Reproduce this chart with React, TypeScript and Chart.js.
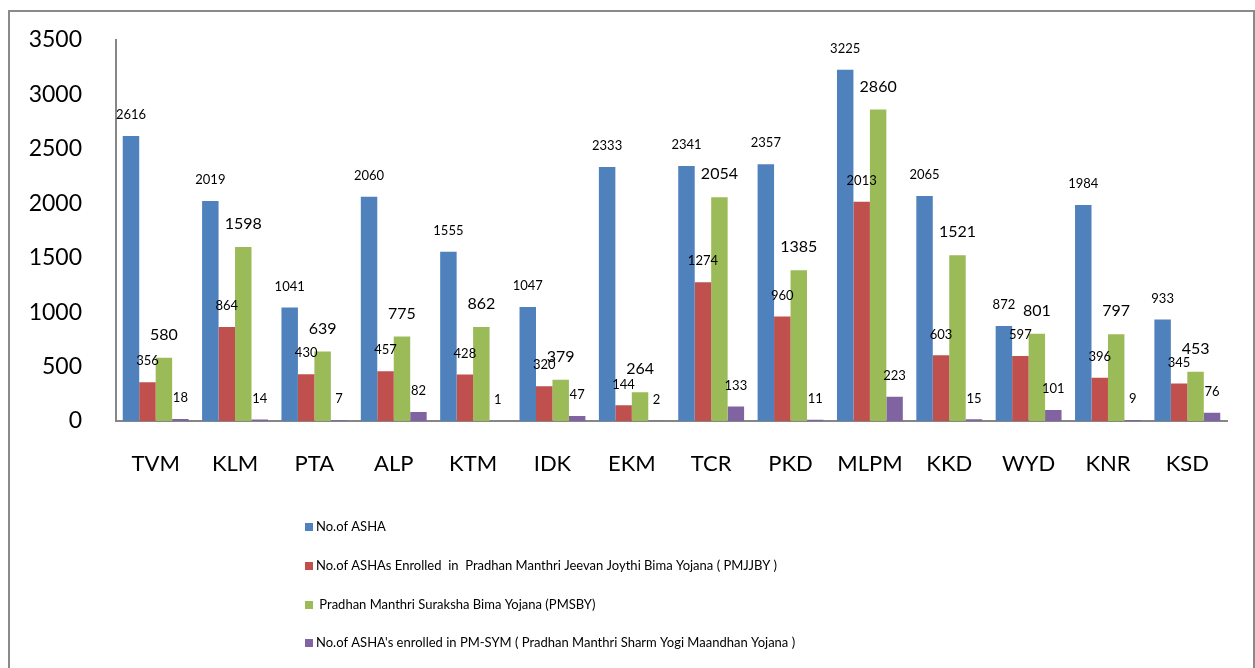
import React, { useEffect, useRef } from "react";
import { Chart, registerables } from "chart.js";

Chart.register(...registerables);

const categories = ["TVM", "KLM", "PTA", "ALP", "KTM", "IDK", "EKM", "TCR", "PKD", "MLPM", "KKD", "WYD", "KNR", "KSD"];
const ashaCount = [2616, 2019, 1041, 2060, 1555, 1047, 2333, 2341, 2357, 3225, 2065, 872, 1984, 933];
const pmjjby = [356, 864, 430, 457, 428, 320, 144, 1274, 960, 2013, 603, 597, 396, 345];
const pmsby = [580, 1598, 639, 775, 862, 379, 264, 2054, 1385, 2860, 1521, 801, 797, 453];
const pmsym = [18, 14, 7, 82, 1, 47, 2, 133, 11, 223, 15, 101, 9, 76];
const seriesNames = [
  "No.of ASHA",
  "No.of ASHAs Enrolled  in  Pradhan Manthri Jeevan Joythi Bima Yojana ( PMJJBY )",
  " Pradhan Manthri Suraksha Bima Yojana (PMSBY)",
  "No.of ASHA's enrolled in PM-SYM ( Pradhan Manthri Sharm Yogi Maandhan Yojana )",
];
const seriesColors = ["#4F81BD", "#C0504D", "#9BBB59", "#8064A2"];
const yTicks = [0, 500, 1000, 1500, 2000, 2500, 3000, 3500];

const FONT = "Lato, 'Open Sans', sans-serif";

const labelPlugin = {
  id: "barLabels",
  afterDatasetsDraw(chart: any) {
    const ctx = chart.ctx;
    ctx.save();
    ctx.fillStyle = "#000";
    ctx.textAlign = "center";
    ctx.textBaseline = "middle";
    chart.data.datasets.forEach((ds: any, di: number) => {
      const meta = chart.getDatasetMeta(di);
      ctx.font = `${di === 2 ? 16 : 13}px ${FONT}`;
      meta.data.forEach((bar: any, i: number) => {
        ctx.fillText(String(ds.data[i]), bar.x, bar.y - (di === 2 ? 23 : 21));
      });
    });
    ctx.restore();
  },
};

const legendPlugin = {
  id: "vertLegend",
  afterDraw(chart: any) {
    const ctx = chart.ctx;
    const ys = [527, 566, 605, 643];
    ctx.save();
    ctx.font = `13px ${FONT}`;
    ctx.textBaseline = "middle";
    ctx.textAlign = "left";
    chart.data.datasets.forEach((ds: any, i: number) => {
      const y = ys[i];
      ctx.fillStyle = ds.backgroundColor;
      ctx.fillRect(305, y - 4, 8, 8);
      ctx.fillStyle = "#000";
      ctx.fillText(ds.label, 316, y);
    });
    ctx.restore();
  },
};

export default function App() {
  const ref = useRef<HTMLCanvasElement>(null);
  useEffect(() => {
    if (!ref.current) return;
    const data = [ashaCount, pmjjby, pmsby, pmsym];
    const chart = new Chart(ref.current, {
      type: "bar",
      data: {
        labels: categories,
        datasets: data.map((d, i) => ({
          label: seriesNames[i],
          data: d,
          backgroundColor: seriesColors[i],
          borderWidth: 0,
          categoryPercentage: 0.83,
          barPercentage: 1,
        })),
      },
      options: {
        responsive: false,
        animation: false,
        devicePixelRatio: 1,
        layout: { padding: { left: 0, right: 28, top: 39, bottom: 0 } },
        plugins: { legend: { display: false }, tooltip: { enabled: false } },
        scales: {
          x: {
            grid: { display: false },
            border: { color: "#868686", width: 2 },
            ticks: { color: "#000", font: { family: FONT, size: 22 }, padding: 22 },
            afterFit: (s: any) => { s.height = 247; },
          },
          y: {
            min: 0,
            max: 3500,
            afterBuildTicks: (s: any) => { s.ticks = yTicks.map((v) => ({ value: v })); },
            grid: { display: false },
            border: { color: "#868686", width: 2 },
            ticks: { color: "#000", font: { family: FONT, size: 23 }, padding: 26, callback: (v: any) => String(v) },
            afterFit: (s: any) => { s.width = 116; },
          },
        },
      },
      plugins: [labelPlugin, legendPlugin],
    });
    return () => chart.destroy();
  }, []);
  return (
    <div>
      <canvas ref={ref} width={1255} height={668} style={{ position: "fixed", left: 0, top: 0, background: "#fff" }} />
      <div style={{ position: "fixed", left: 8, top: 10, width: 1243, height: 700, border: "2px solid #8a8a8a", pointerEvents: "none" }} />
    </div>
  );
}
